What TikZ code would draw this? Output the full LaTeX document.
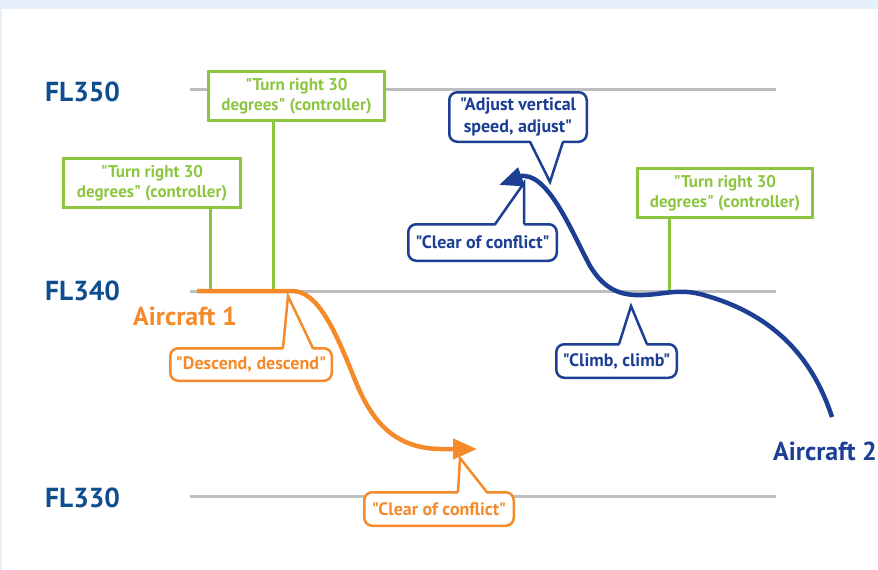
\documentclass[tikz,border=0pt]{standalone}
\usepackage{fontspec}
\setmainfont{PT Sans}[Ligatures=TeXOff]
\usetikzlibrary{calc,arrows.meta}
\definecolor{bgblue}{HTML}{E5F0FA}
\definecolor{flblue}{HTML}{0E4D8E}
\definecolor{acblue}{HTML}{1C3F94}
\definecolor{acorange}{HTML}{F58A2A}
\definecolor{tgreen}{HTML}{8CC63F}
\definecolor{lvlgray}{HTML}{BCBEC0}
\newcommand\ptrtop[4]{%
  \fill[white] ($(#1.north west)+(#2,3.5)$) -- (#4) -- ($(#1.north west)+(#3,3.5)$) -- cycle;
  \draw ($(#1.north west)+(#2,1.25)$) -- (#4) -- ($(#1.north west)+(#3,1.25)$);}
\newcommand\ptrbot[4]{%
  \fill[white] ($(#1.south west)+(#2,-3.5)$) -- (#4) -- ($(#1.south west)+(#3,-3.5)$) -- cycle;
  \draw ($(#1.south west)+(#2,-1.25)$) -- (#4) -- ($(#1.south west)+(#3,-1.25)$);}
\begin{document}
\begin{tikzpicture}[x=1pt,y=-1pt,
  fl/.style={font=\bfseries\fontsize{27.5}{27.5}\selectfont, text=flblue, inner sep=0, anchor=base west},
  acname/.style={font=\bfseries\fontsize{26}{26}\selectfont, inner sep=0, anchor=base west},
  level/.style={draw=lvlgray, line width=3pt},
  greenbox/.style={draw=tgreen, line width=3pt, fill=white, text=tgreen, align=center, inner sep=0,
     font=\bfseries\fontsize{17}{20}\selectfont, minimum height=49pt},
  greenline/.style={draw=tgreen, line width=3pt},
  callout/.style={rounded corners=8pt, line width=2.5pt, fill=white, align=center, inner sep=0,
     font=\bfseries\fontsize{18}{22}\selectfont},
  ocall/.style={callout, draw=acorange, text=acorange},
  bcall/.style={callout, draw=acblue, text=acblue},
  opath/.style={draw=acorange, line width=4.5pt},
  bpath/.style={draw=acblue, line width=4.5pt}
]
\useasboundingbox (0,0) rectangle (878,570);
\fill[bgblue] (0,0) rectangle (878,9);
\fill[bgblue] (0,0) rectangle (2,570);

% flight levels
\node[fl] (fl350) at (45,101) {FL350};
\node[fl] (fl340) at (45,300) {FL340};
\node[fl] (fl330) at (45,507) {FL330};
\coordinate (l350a) at (190,89); \coordinate (l350b) at (776,89);
\coordinate (l340a) at (190,291); \coordinate (l340b) at (776,291);
\coordinate (l330a) at (190,496); \coordinate (l330b) at (776,496);
\draw[level] (l350a) -- (l350b);
\draw[level] (l340a) -- (l340b);
\draw[level] (l330a) -- (l330b);

% controller instructions
\node[greenbox, minimum width=177pt] (gA) at (152,183) {"Turn right 30\\degrees" (controller)};
\node[greenbox, minimum width=176pt] (gB) at (296.5,96) {"Turn right 30\\degrees" (controller)};
\node[greenbox, minimum width=175pt] (gC) at (725,193) {"Turn right 30\\degrees" (controller)};
\coordinate (gAe) at (210,291);
\coordinate (gBe) at (273,291);
\coordinate (gCe) at (669,291);
\draw[greenline] (gAe |- gA.south) -- (gAe);
\draw[greenline] (gBe |- gB.south) -- (gBe);
\draw[greenline] (gCe |- gC.south) -- (gCe);

% aircraft 1
\coordinate (a1s) at (197,291);
\coordinate (a1t) at (477,449);
\draw[opath, -{Triangle[length=24pt,width=20pt]}] (a1s) -- (292,291)
  .. controls (318,291) and (335,330) .. (355,380)
  .. controls (372,422) and (395,450) .. (445,449) -- (a1t);
\node[acname, text=acorange] (ac1) at (133,325) {Aircraft 1};

% aircraft 2
\coordinate (a2s) at (832,417);
\coordinate (a2t) at (499,185);
\draw[bpath, -{Triangle[length=24pt,width=19pt]}] (a2s)
  .. controls (815,365) and (780,315) .. (700,294)
  .. controls (675,288) and (660,296) .. (635,295)
  .. controls (612,294) and (600,282) .. (590,266)
  .. controls (572,232) and (550,178) .. (525,176)
  .. controls (516,175) and (510,181) .. (a2t);
\node[acname, text=acblue] (ac2) at (773,460) {Aircraft 2};

% pilot callouts, aircraft 1
\node[ocall, minimum width=161.5pt, minimum height=32.5pt] (desc) at (251,364.5) {"Descend, descend"};
\coordinate (desct) at (288,296);
\begin{scope}[draw=acorange, line width=2.5pt]
\ptrtop{desc}{114}{144}{desct}
\end{scope}
\node[ocall, minimum width=149.5pt, minimum height=33.5pt] (occ) at (439,509) {"Clear of conflict"};
\coordinate (occt) at (460,458);
\begin{scope}[draw=acorange, line width=2.5pt]
\ptrtop{occ}{95}{124}{occt}
\end{scope}

% pilot callouts, aircraft 2
\node[bcall, minimum width=137.5pt, minimum height=49.5pt] (adj) at (518,117) {"Adjust vertical\\speed, adjust"};
\coordinate (adjt) at (550,182);
\begin{scope}[draw=acblue, line width=2.5pt]
\ptrbot{adj}{82}{115}{adjt}
\end{scope}
\node[bcall, minimum width=148.5pt, minimum height=36.5pt] (bcc) at (482.5,242.5) {"Clear of conflict"};
\coordinate (bcct) at (524,183);
\begin{scope}[draw=acblue, line width=2.5pt]
\ptrtop{bcc}{88}{117}{bcct}
\end{scope}
\node[bcall, minimum width=120.5pt, minimum height=33.5pt] (climb) at (616.5,361) {"Climb, climb"};
\coordinate (climbt) at (631,306);
\begin{scope}[draw=acblue, line width=2.5pt]
\ptrtop{climb}{64}{92}{climbt}
\end{scope}
\end{tikzpicture}
\end{document}
